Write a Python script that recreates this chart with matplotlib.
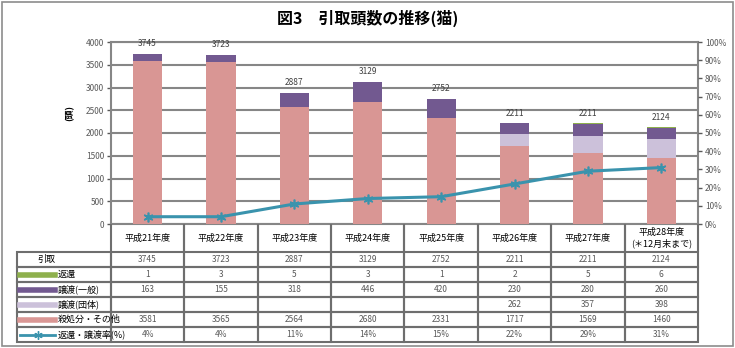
import numpy as np
import matplotlib.pyplot as plt
from matplotlib.lines import Line2D
from matplotlib.patches import Rectangle

plt.rcParams['font.family'] = ['Noto Sans CJK JP', 'DejaVu Sans']

years = ['平成21年度', '平成22年度', '平成23年度', '平成24年度', '平成25年度',
         '平成26年度', '平成27年度', '平成28年度\n(＊12月末まで)']
hikitori = [3745, 3723, 2887, 3129, 2752, 2211, 2211, 2124]
henkan = [1, 3, 5, 3, 1, 2, 5, 6]
joto_ippan = [163, 155, 318, 446, 420, 230, 280, 260]
joto_dantai = [0, 0, 0, 0, 0, 262, 357, 398]
satsu = [3581, 3565, 2564, 2680, 2331, 1717, 1569, 1460]
rate = [4, 4, 11, 14, 15, 22, 29, 31]

row_names = ['引取', '返還', '譲渡(一般)', '譲渡(団体)', '殺処分・その他', '返還・譲渡率(%)']

c_green = '#8EB04D'
c_purple = '#725990'
c_lav = '#CCC1DA'
c_pink = '#D99694'
c_teal = '#3A93AD'
c_grid = '#868686'

W, H = 735, 348
fig = plt.figure(figsize=(W / 100, H / 100), dpi=100)

# outer frame
fig.patches.append(Rectangle((2 / W, 2 / H), 1 - 4 / W, 1 - 4 / H, transform=fig.transFigure,
                             fill=False, ec='#8c8c8c', lw=1.2))

fig.text(0.5, 1 - 18 / H, '図3　引取頭数の推移(猫)', ha='center', va='center',
         fontsize=11.5, fontweight='bold')

x0, x1, y0, y1 = 111, 698, 42, 224
ax = fig.add_axes([x0 / W, 1 - y1 / H, (x1 - x0) / W, (y1 - y0) / H])
x = np.arange(len(years))
bw = 0.4

b = np.zeros(len(x))
for vals, col in [(satsu, c_pink), (joto_dantai, c_lav), (joto_ippan, c_purple), (henkan, c_green)]:
    ax.bar(x, vals, bw, bottom=b, color=col, zorder=3)
    b = b + np.array(vals)

for xi, tot in zip(x, hikitori):
    ax.annotate(str(tot), (xi, tot), xytext=(0, 4), textcoords='offset points',
                ha='center', va='bottom', fontsize=6, color='#404040')

ax.set_xlim(-0.5, len(x) - 0.5)
ax.set_ylim(0, 4000)
ax.set_yticks(np.arange(0, 4001, 500))
ax.set_xticks([])
ax.tick_params(axis='y', labelsize=6, colors='#595959', length=3, width=1, pad=2)
ax.grid(axis='y', color=c_grid, lw=1.5, zorder=0)
for s in ax.spines.values():
    s.set_color(c_grid)
    s.set_linewidth(1.5)
ax.set_ylabel('(頭)', fontsize=6.5, fontweight='bold')
ax.yaxis.set_label_coords(-0.062, 0.61)

ax2 = ax.twinx()
ax2.plot(x, rate, color=c_teal, lw=2.2, marker=(6, 2, 0), ms=7, mew=1.2, zorder=5)
ax2.set_ylim(0, 100)
ax2.set_yticks(np.arange(0, 101, 10))
ax2.set_yticklabels([f'{v}%' for v in range(0, 101, 10)])
ax2.tick_params(axis='y', labelsize=6, colors='#595959', length=3, width=1, pad=2)
for s in ax2.spines.values():
    s.set_visible(False)

# data table
tx0, ty1 = 17, 342
tab = fig.add_axes([tx0 / W, 1 - ty1 / H, (x1 - tx0) / W, (ty1 - y1) / H])
tab.axis('off')
label_w = x0 - tx0
col_w = (x1 - x0) / len(years)
tot_w = x1 - tx0
head_h, row_h = 28, 15
tot_h = head_h + row_h * len(row_names)


def fmt(v):
    return '' if v == 0 else str(v)


cell_text = [[''] + years]
cell_text.append([''] + [str(v) for v in hikitori])
cell_text.append([''] + [str(v) for v in henkan])
cell_text.append([''] + [str(v) for v in joto_ippan])
cell_text.append([''] + [fmt(v) for v in joto_dantai])
cell_text.append([''] + [str(v) for v in satsu])
cell_text.append([''] + [f'{v}%' for v in rate])

t = tab.table(cellText=cell_text, cellLoc='center', bbox=[0, 0, 1, 1])
t.auto_set_font_size(False)
for (r, c), cell in t.get_celld().items():
    cell.set_width((label_w if c == 0 else col_w) / tot_w)
    cell.set_height((head_h if r == 0 else row_h) / tot_h)
    cell.set_edgecolor('#6e6e6e')
    cell.set_linewidth(1.5)
    cell.set_facecolor('none')
    cell.get_text().set_fontsize(6.5 if r == 0 else 6)
    cell.get_text().set_color('black' if r == 0 else '#595959')
    if r == 0:
        cell.visible_edges = '' if c == 0 else 'LR'

# row labels with legend keys
keys = [None, ('line', c_green), ('line', c_purple), ('line', c_lav), ('line', c_pink), ('mark', c_teal)]
for i, (name, key) in enumerate(zip(row_names, keys)):
    yc = 1 - (head_h + row_h * (i + 0.5)) / tot_h
    if key is None:
        tab.text(20 / tot_w, yc, name, ha='left', va='center', fontsize=6.5)
        continue
    tab.text(41 / tot_w, yc, name, ha='left', va='center', fontsize=6.5)
    if key[0] == 'line':
        tab.add_line(Line2D([3 / tot_w, 38 / tot_w], [yc, yc], color=key[1], lw=4))
    else:
        tab.add_line(Line2D([3 / tot_w, 38 / tot_w], [yc, yc], color=key[1], lw=2))
        tab.add_line(Line2D([20.5 / tot_w], [yc], color=key[1], marker=(6, 2, 0), ms=6, mew=1))

fig.savefig('out.png', dpi=100)
